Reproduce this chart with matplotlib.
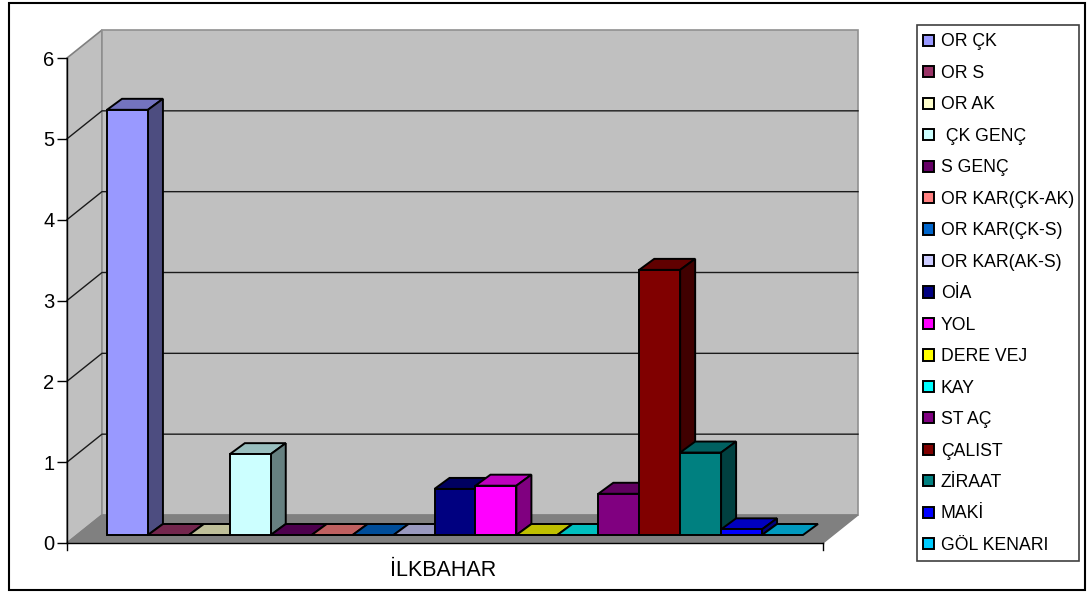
import matplotlib
matplotlib.use("Agg")
import matplotlib.pyplot as plt
from matplotlib.patches import Polygon, Patch, Rectangle
from matplotlib.colors import to_rgb

plt.rcParams["font.family"] = ["Liberation Sans", "DejaVu Sans"]

series = ["OR ÇK", "OR S", "OR AK", " ÇK GENÇ", "S GENÇ", "OR KAR(ÇK-AK)", "OR KAR(ÇK-S)",
          "OR KAR(AK-S)", "OİA", "YOL", "DERE VEJ", "KAY", "ST AÇ", "ÇALIST", "ZİRAAT",
          "MAKİ", "GÖL KENARI"]
values = [5.26, 0, 0, 1.0, 0, 0, 0, 0, 0.57, 0.61, 0, 0, 0.51, 3.28, 1.02, 0.07, 0]
colors = ["#9999FF", "#993366", "#FFFFCC", "#CCFFFF", "#660066", "#FF8080", "#0066CC",
          "#CCCCFF", "#000080", "#FF00FF", "#FFFF00", "#00FFFF", "#800080", "#800000",
          "#008080", "#0000FF", "#00CCFF"]
y_ticks = [0, 1, 2, 3, 4, 5, 6]
category = "İLKBAHAR"

W, H = 1088, 592
fig = plt.figure(figsize=(W / 100, H / 100), dpi=100)
fig.patch.set_facecolor("white")

# plot box in pixels: x axis 67-823, value axis 543 (0) up to 58 (6)
left, right, bottom, top = 67, 823, 543, 58
ax = fig.add_axes([left / W, 1 - bottom / H, (right - left) / W, (bottom - top) / H])
ax.set_facecolor("none")

slot_px = 40.94
px_y = (bottom - top) / 6
ax.set_xlim(0, (right - left) / slot_px)
ax.set_ylim(0, 6)


def dx(px):
    return px / slot_px


def dy(px):
    return px / px_y


def shade(c, k):
    return tuple(v * k for v in to_rgb(c))


# walls and floor, 35px / 28px oblique depth
xmax = ax.get_xlim()[1]
wx, wy = dx(35), dy(28)
ax.add_patch(Polygon([(0, 0), (0, 6), (wx, 6 + wy), (wx, wy)], fc="#C0C0C0", ec="#808080", lw=1.2, clip_on=False, zorder=1))
ax.add_patch(Polygon([(wx, wy), (wx, 6 + wy), (xmax + wx, 6 + wy), (xmax + wx, wy)], fc="#C0C0C0", ec="#909090", lw=1.2, clip_on=False, zorder=1))
ax.add_patch(Polygon([(0, 0), (xmax, 0), (xmax + wx, wy), (wx, wy)], fc="#808080", ec="#808080", lw=1, clip_on=False, zorder=1.5))

for v in y_ticks[1:-1]:
    ax.plot([0, wx, xmax + wx], [v, v + wy, v + wy], color="#1A1A1A", lw=1, clip_on=False, zorder=2)

# bars, drawn left to right so the next front covers the last side
x0 = dx(107 - left)
base = dy(8)
bx, by = dx(15), dy(11)
for i, (v, c) in enumerate(zip(values, colors)):
    a = x0 + i
    b = a + 1
    y0, y1 = base, base + v
    z = 3 + i * 0.01
    ax.add_patch(Polygon([(a, y1), (b, y1), (b + bx, y1 + by), (a + bx, y1 + by)], fc=shade(c, 0.75), ec="black", lw=1.4, joinstyle="miter", clip_on=False, zorder=z))
    if v > 0:
        ax.add_patch(Polygon([(b, y0), (b + bx, y0 + by), (b + bx, y1 + by), (b, y1)], fc=shade(c, 0.5), ec="black", lw=1.4, joinstyle="miter", clip_on=False, zorder=z))
        ax.add_patch(Rectangle((a, y0), 1, v, fc=c, ec="black", lw=1.4, joinstyle="miter", clip_on=False, zorder=z))

for s in ["top", "right"]:
    ax.spines[s].set_visible(False)
for s in ["left", "bottom"]:
    ax.spines[s].set_linewidth(1)
    ax.spines[s].set_zorder(2.5)

ax.set_yticks(y_ticks)
ax.tick_params(axis="y", length=7, width=1, labelsize=14.5, pad=2)
ax.set_xticks([xmax / 2 - dx(1.5)])
ax.set_xticklabels([category])
ax.tick_params(axis="x", length=0, labelsize=15.5, pad=12)
for xt in [0, xmax]:
    ax.plot([xt, xt], [0, -dy(7)], color="black", lw=1, clip_on=False, zorder=2.5)

# legend box drawn apart so its padding can differ from the entry spacing
fig.add_artist(Rectangle((916.5 / W, 1 - 560.5 / H), 162 / W, 536 / H, transform=fig.transFigure,
                         fc="white", ec="#404040", lw=1.2))
handles = [Patch(fc=c, ec="black", lw=1.4) for c in colors]
fig.legend(handles, series, loc="upper left", bbox_to_anchor=(923 / W, 1 - 33.5 / H),
           borderaxespad=0, borderpad=0, fontsize=12.7, frameon=False,
           handlelength=0.6, handleheight=0.6, handletextpad=0.4, labelspacing=0.82)

fig.add_artist(Rectangle((8.5 / W, 1 - 590 / H), (1085 - 8.5) / W, (590 - 2.5) / H, transform=fig.transFigure,
                         fc="none", ec="black", lw=1.5))

fig.savefig("out.png", dpi=100)
